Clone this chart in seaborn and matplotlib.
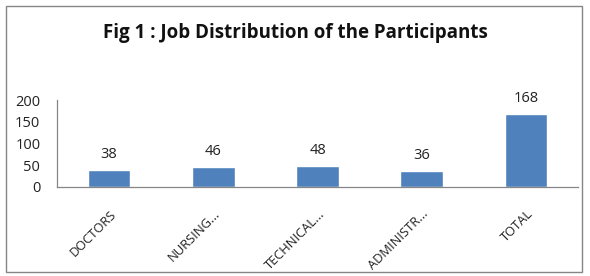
import matplotlib
matplotlib.use("Agg")
import matplotlib.pyplot as plt
import matplotlib.transforms as mtrans
import seaborn as sns
import pandas as pd
from matplotlib.patches import Rectangle

categories = ["DOCTORS", "NURSING...", "TECHNICAL...", "ADMINISTR...", "TOTAL"]
values = [38, 46, 48, 36, 168]
yticks = [0, 50, 100, 150, 200]
title = "Fig 1 : Job Distribution of the Participants"

sns.set_theme(style="white")
plt.rcParams['font.family'] = ['Open Sans', 'DejaVu Sans']

df = pd.DataFrame({"cat": categories, "val": values})

fig = plt.figure(figsize=(5.9, 2.76), dpi=100)
ax = fig.add_axes([57/590, 1 - 187/276, (578-57)/590, 87/276])
sns.barplot(data=df, x="cat", y="val", color="#4F81BD", width=0.41, saturation=1, ax=ax)

ax.set_ylim(0, 200)
ax.set_yticks(yticks)
ax.set_yticklabels([str(t) for t in yticks], fontsize=10.5, color="#222222")
ax.set_xlabel("")
ax.set_ylabel("")
ax.tick_params(axis="both", length=0)
ax.tick_params(axis="x", pad=0)
ax.tick_params(axis="y", pad=12)
ax.set_xticks(range(len(categories)))
ax.set_xticklabels(categories, rotation=45, ha="right", va="center", rotation_mode="anchor",
                   fontsize=9.3, color="#222222")
off = mtrans.ScaledTranslation(0.05, -0.25, fig.dpi_scale_trans)
for lab in ax.get_xticklabels():
    lab.set_transform(lab.get_transform() + off)
for s in ["top", "right"]:
    ax.spines[s].set_visible(False)
for s in ["left", "bottom"]:
    ax.spines[s].set_color("#868686")
    ax.spines[s].set_linewidth(0.9)

for cont in ax.containers:
    ax.bar_label(cont, labels=[str(v) for v in values], padding=6, fontsize=10.5, color="#222222")

fig.text(0.5, 1 - 33/276, title, ha="center", va="center", fontsize=13.5, fontweight="bold", color="#111111")
fig.patches.append(Rectangle((6/590, 4/276), 576/590, 266/276, transform=fig.transFigure,
                             fill=False, edgecolor="#868686", linewidth=1))
fig.savefig("out.png", dpi=100)
